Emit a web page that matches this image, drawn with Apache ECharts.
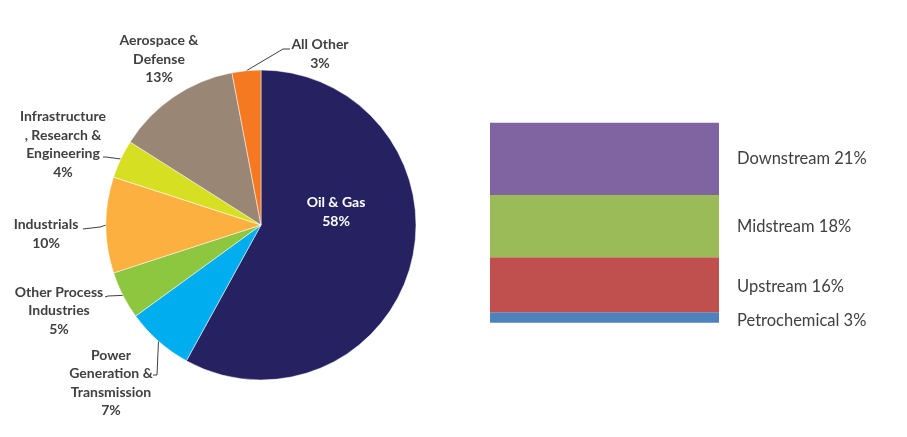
<!DOCTYPE html>
<html>
<head>
<meta charset="utf-8">
<script src="https://cdn.jsdelivr.net/npm/echarts@6/dist/echarts.min.js"></script>
<style>html,body{margin:0;padding:0;background:#fff}#c{width:907px;height:437px}</style>
</head>
<body>
<div id="c"></div>
<script>
// ---- data ----
const pieNames = ['Oil & Gas', 'Power\nGeneration &\nTransmission', 'Other Process\nIndustries', 'Industrials', 'Infrastructure\n, Research &\nEngineering', 'Aerospace &\nDefense', 'All Other'];
const pieValues = [58, 7, 5, 10, 4, 13, 3];
const segNames = ['Petrochemical', 'Upstream', 'Midstream', 'Downstream'];
const segValues = [3, 16, 18, 21];
const totalOilGas = 58;

// ---- styles / layout ----
const pieColors = ['#262262', '#00AEEF', '#8DC63F', '#FBB040', '#D7DF23', '#998675', '#F47920'];
const segColors = ['#4F81BD', '#C0504D', '#9BBB59', '#8064A2'];
const segLabelOffsets = [3.5, 2, 1, 0];
const labelPos = [
  {x: 336, y: 212},
  {x: 111, y: 383},
  {x: 59, y: 310.5},
  {x: 46, y: 234},
  {x: 63, y: 144.5},
  {x: 159, y: 59},
  {x: 320, y: 54}
];
const lineBends = [
  null,
  [[157, 375], [153, 375]],
  [[108, 296], [105, 297]],
  [[100, 227], [83, 229]],
  [[106, 157], [103, 157]],
  null,
  [[283, 49], [290, 49]]
];

const chart = echarts.init(document.getElementById('c'), null, {renderer: 'canvas'});
const font = 'Lato, "Open Sans", sans-serif';

const pieData = pieNames.map((n, i) => {
  const d = {name: n, value: pieValues[i], itemStyle: {color: pieColors[i]}};
  if (i === 0) {
    d.label = {color: '#ffffff'};
    d.labelLine = {show: false};
  } else if (!lineBends[i]) {
    d.labelLine = {show: false};
  }
  return d;
});

const barSeries = segNames.map((n, i) => ({
  name: n,
  type: 'bar',
  stack: 'oil',
  barWidth: 229,
  data: [segValues[i]],
  itemStyle: {color: segColors[i]},
  label: {
    show: true,
    position: 'right',
    distance: 18,
    offset: [0, segLabelOffsets[i]],
    formatter: '{a} {c}%',
    color: '#404040',
    fontSize: 16.5,
    fontFamily: font
  },
  silent: true
}));

chart.setOption({
  animation: false,
  backgroundColor: '#ffffff',
  grid: {left: 490, width: 229, top: 122.7, height: 200},
  xAxis: {type: 'category', data: ['Oil & Gas'], show: false},
  yAxis: {type: 'value', min: 0, max: totalOilGas, show: false},
  series: [
    {
      type: 'pie',
      center: [261, 225],
      radius: 155,
      startAngle: 90,
      clockwise: true,
      data: pieData,
      itemStyle: {borderColor: '#ffffff', borderWidth: 0.5},
      label: {
        show: true,
        formatter: '{b}\n{c}%',
        color: '#404040',
        fontSize: 14,
        fontWeight: 'bold',
        fontFamily: font,
        lineHeight: 18.5,
        align: 'center',
        overflow: 'none',
        width: null
      },
      labelLine: {show: true, lineStyle: {color: '#404040', width: 1}},
      labelLayout: function (params) {
        const i = params.dataIndex;
        const p = labelPos[i];
        const res = {x: p.x, y: p.y, align: 'center', verticalAlign: 'middle'};
        if (lineBends[i] && params.labelLinePoints) {
          res.labelLinePoints = [params.labelLinePoints[0], lineBends[i][0], lineBends[i][1]];
        }
        return res;
      },
      silent: true
    }
  ].concat(barSeries)
});
</script>
</body>
</html>
